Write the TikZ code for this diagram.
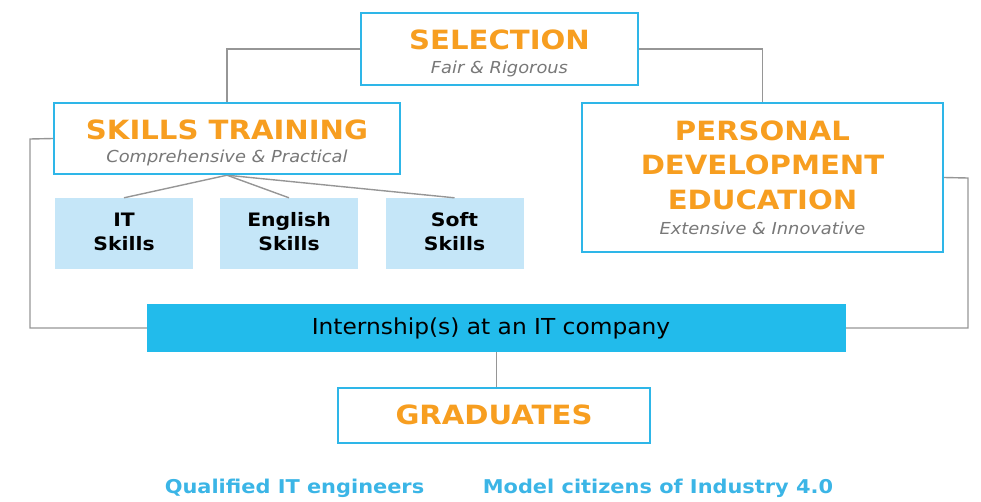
\documentclass[tikz,border=0pt]{standalone}
\usepackage{fontspec}
\setmainfont{DejaVu Sans}
\newfontfamily\boldwide[FakeStretch=1.1]{DejaVu Sans Bold}
\newfontfamily\itwide[FakeStretch=1.08]{DejaVu Sans Oblique}
\newfontfamily\regwide[FakeStretch=1.06]{DejaVu Sans}
\definecolor{bordercyan}{RGB}{46,182,232}
\definecolor{barcyan}{RGB}{34,187,235}
\definecolor{lightcyan}{RGB}{197,230,248}
\definecolor{titleorange}{RGB}{247,158,32}
\definecolor{subgrey}{RGB}{120,120,120}
\definecolor{linegrey}{RGB}{150,150,150}
\definecolor{textcyan}{RGB}{59,181,230}
\tikzset{
  mainbox/.style={draw=bordercyan, line width=2.4pt, fill=white, inner sep=0pt},
  subbox/.style={fill=lightcyan, inner sep=0pt, minimum width=138pt, minimum height=71pt},
  titletext/.style={text=titleorange, font=\boldwide\fontsize{26.5}{34.5}\selectfont, align=center, inner sep=0pt},
  subtext/.style={text=subgrey, font=\itwide\fontsize{16.5}{18}\selectfont, inner sep=0pt},
  skilltext/.style={text=black, font=\boldwide\fontsize{18.5}{24}\selectfont, align=center, inner sep=0pt},
  conn/.style={draw=linegrey, line width=1.4pt},
  bottomtext/.style={text=textcyan, font=\boldwide\fontsize{19}{20}\selectfont, inner sep=0pt}
}
\begin{document}
\begin{tikzpicture}[x=1pt,y=-1pt]
\useasboundingbox (0,0) rectangle (981,501);
% boxes (placed first to define anchors)
\node[mainbox, minimum width=277pt, minimum height=72pt] (sel) at (499.5,49) {};
\node[mainbox, minimum width=346pt, minimum height=71pt] (st) at (227,138.5) {};
\node[mainbox, minimum width=361pt, minimum height=149pt] (pde) at (762.5,177.5) {};
\node[fill=barcyan, inner sep=0pt, minimum width=699pt, minimum height=48pt] (intern) at (496.5,328) {};
\node[mainbox, minimum width=312pt, minimum height=55pt] (grad) at (494,415.5) {};
\node[subbox] (its) at (124,233.5) {};
\node[subbox] (eng) at (289,233.5) {};
\node[subbox] (soft) at (454.5,233.5) {};
% connectors
\coordinate (lc) at (30,139);
\coordinate (rc) at (968,178);
\draw[conn] (sel.west) -| (st.north);
\draw[conn] (sel.east) -| (pde.north);
\draw[conn] (st.west) -- (lc) |- (intern.west);
\draw[conn] (pde.east) -- (rc) |- (intern.east);
\draw[conn] (st.south) -- (its.north);
\draw[conn] (st.south) -- (eng.north);
\draw[conn] (st.south) -- (soft.north);
\draw[conn] (intern.south) -- (intern.south |- grad.north);
% redraw boxes on top of connectors
\node[mainbox, minimum width=277pt, minimum height=72pt] at (sel) {};
\node[mainbox, minimum width=346pt, minimum height=71pt] at (st) {};
\node[mainbox, minimum width=361pt, minimum height=149pt] at (pde) {};
\node[mainbox, minimum width=312pt, minimum height=55pt] at (grad) {};
% texts
\node[titletext] (selt) at (499.5,40) {SELECTION};
\node[subtext] (sels) at (499.5,69) {Fair \& Rigorous};
\node[titletext] (stt) at (227,130) {SKILLS TRAINING};
\node[subtext] (sts) at (227,158) {Comprehensive \& Practical};
\node[titletext] (pdet) at (762.5,165) {PERSONAL\\DEVELOPMENT\\EDUCATION};
\node[subtext] (pdes) at (762.5,228) {Extensive \& Innovative};
\node[skilltext] (itst) at (124,232) {IT\\Skills};
\node[skilltext] (engt) at (289,232) {English\\Skills};
\node[skilltext] (softt) at (454.5,232) {Soft\\Skills};
\node[text=black, font=\regwide\fontsize{22}{24}\selectfont, inner sep=0pt] (internt) at (491,328) {Internship(s) at an IT company};
\node[titletext] (gradt) at (494,415) {GRADUATES};
\node[bottomtext] (q1) at (294.5,488) {Qualified IT engineers};
\node[bottomtext] (q2) at (658,488) {Model citizens of Industry 4.0};
\end{tikzpicture}
\end{document}
